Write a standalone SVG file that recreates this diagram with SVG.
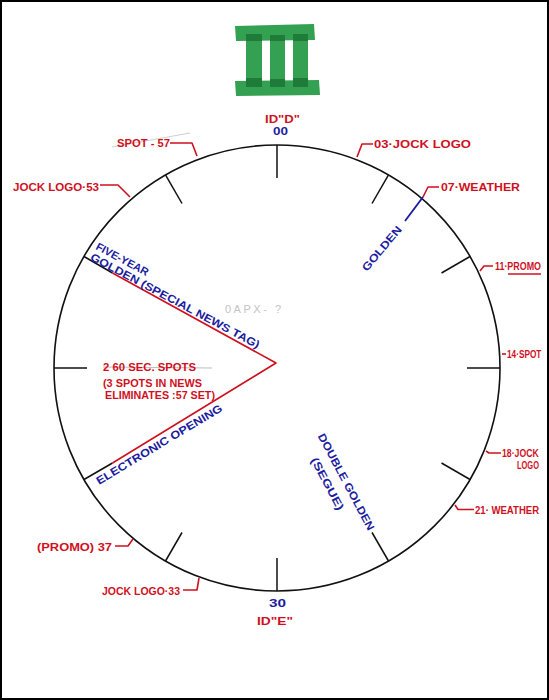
<svg xmlns="http://www.w3.org/2000/svg" width="549" height="700" viewBox="0 0 549 700">
<style>
.r{fill:#d0101e;font-family:"Liberation Sans",Arial,sans-serif;font-size:11px;font-weight:bold;}
.b{fill:#1c1ca0;font-family:"Liberation Sans",Arial,sans-serif;font-size:11px;font-weight:bold;}
.rl{fill:none;stroke:#d0101e;stroke-width:1.6;stroke-linejoin:round;}
.tk{stroke:#111;stroke-width:1.5;}
.g1{fill:#34a052;}
.g2{fill:#1f7b3a;}
</style>
<rect x="1" y="1" width="547" height="698" fill="#fff" stroke="#000" stroke-width="2"/>

<g id="logo">
<rect class="g1" x="246" y="30" width="16" height="56"/>
<rect class="g1" x="270" y="30" width="15" height="56"/>
<rect class="g1" x="293" y="30" width="15" height="56"/>
<path class="g1" d="M235,26 L314,24 L315,40 L236,41 Z"/>
<path class="g1" d="M235,81 L319,80 L320,95 L236,96 Z"/>
<rect class="g2" x="246" y="34" width="16" height="7"/>
<rect class="g2" x="270" y="35" width="15" height="6"/>
<rect class="g2" x="293" y="34" width="15" height="7"/>
<rect class="g2" x="246" y="78" width="16" height="9"/>
<rect class="g2" x="270" y="79" width="15" height="8"/>
<rect class="g2" x="293" y="78" width="15" height="9"/>
</g>

<g id="clock">
<circle cx="277" cy="368" r="223" fill="none" stroke="#111" stroke-width="1.6"/>
<line class="tk" x1="277" y1="145" x2="277" y2="178"/>
<line class="tk" x1="388.5" y1="174.9" x2="372" y2="203.5"/>
<line class="tk" x1="470" y1="256.5" x2="441.5" y2="273"/>
<line class="tk" x1="500" y1="368" x2="467" y2="368"/>
<line class="tk" x1="470" y1="479.5" x2="441.5" y2="463"/>
<line class="tk" x1="388.5" y1="561" x2="372" y2="532.5"/>
<line class="tk" x1="277" y1="591" x2="277" y2="558"/>
<line class="tk" x1="165.5" y1="561" x2="182" y2="532.5"/>
<line class="tk" x1="84" y1="479.5" x2="112.5" y2="463"/>
<line class="tk" x1="54" y1="368" x2="87" y2="368"/>
<line class="tk" x1="84" y1="256.5" x2="112.5" y2="273"/>
<line class="tk" x1="165.5" y1="174.9" x2="182" y2="203.5"/>
</g>

<g id="connectors">
<polyline class="rl" points="112.5,273 276,363 112.5,463"/>
<polyline class="rl" points="170,143 192,143 197,156"/>
<polyline class="rl" points="100,185 118,185 130,197"/>
<polyline class="rl" points="357,157 362,144 373,144"/>
<polyline class="rl" points="423,197 428,187 439,187"/>
<polyline class="rl" points="480,271 484,266 493,266"/>
<polyline class="rl" points="502,354 506,354"/>
<polyline class="rl" points="486,451 489,453 501,453"/>
<polyline class="rl" points="455,505 458,509.5 474,509.5"/>
<polyline class="rl" points="115,546 128,546 133,539"/>
<polyline class="rl" points="183,590 197,590 199,578"/>
<line x1="423" y1="197" x2="405" y2="221" stroke="#1c1ca0" stroke-width="1.8"/>
<line x1="112" y1="147" x2="190" y2="133" stroke="#cfcfcf" stroke-width="1"/>
<line x1="103" y1="367" x2="212" y2="368" stroke="#bdbdbd" stroke-width="1.2"/>
<line x1="508" y1="274" x2="541" y2="274" stroke="#d0101e" stroke-width="1.4"/>
</g>

<g id="top-label">
<text class="r" x="265" y="123" textLength="35" lengthAdjust="spacingAndGlyphs">ID"D"</text>
<text class="b" x="273" y="135" font-size="13" textLength="15" lengthAdjust="spacingAndGlyphs">00</text>
</g>
<g id="bottom-label">
<text class="b" x="269" y="607" font-size="13" textLength="17" lengthAdjust="spacingAndGlyphs">30</text>
<text class="r" x="257" y="625" textLength="36" lengthAdjust="spacingAndGlyphs">ID"E"</text>
</g>
<g id="m57"><text class="r" x="117" y="147" textLength="53" lengthAdjust="spacingAndGlyphs">SPOT - 57</text></g>
<g id="m53"><text class="r" x="13" y="191" textLength="86" lengthAdjust="spacingAndGlyphs">JOCK LOGO·53</text></g>
<g id="m03"><text class="r" x="374" y="148" textLength="97" lengthAdjust="spacingAndGlyphs">03·JOCK LOGO</text></g>
<g id="m07"><text class="r" x="441" y="191" textLength="79" lengthAdjust="spacingAndGlyphs">07·WEATHER</text></g>
<g id="m11"><text class="r" transform="translate(495,270) scale(0.81,1)">11·PROMO</text></g>
<g id="m14"><text class="r" transform="translate(507,358) scale(0.75,1)">14·SPOT</text></g>
<g id="m18"><text class="r" transform="translate(502,457) scale(0.79,1)">18·JOCK</text><text class="r" transform="translate(517,469) scale(0.68,1)">LOGO</text></g>
<g id="m21"><text class="r" transform="translate(475,514) scale(0.87,1)">21· WEATHER</text></g>
<g id="m37"><text class="r" x="37" y="551" textLength="75" lengthAdjust="spacingAndGlyphs">(PROMO) 37</text></g>
<g id="m33"><text class="r" x="102" y="595" textLength="78" lengthAdjust="spacingAndGlyphs">JOCK LOGO·33</text></g>

<g id="golden"><text class="b" font-size="12" transform="translate(367,272) rotate(-50)" textLength="55" lengthAdjust="spacingAndGlyphs">GOLDEN</text></g>
<g id="five-year">
<text class="b" transform="translate(95,249) rotate(28)" textLength="58" lengthAdjust="spacingAndGlyphs">FIVE-YEAR</text>
<text class="b" transform="translate(89.5,259.5) rotate(28)" textLength="190" lengthAdjust="spacingAndGlyphs">GOLDEN (SPECIAL NEWS TAG)</text>
</g>
<g id="spots">
<text class="r" x="103" y="371" textLength="93" lengthAdjust="spacingAndGlyphs">2 60 SEC. SPOTS</text>
<text class="r" x="103" y="387" textLength="99" lengthAdjust="spacingAndGlyphs">(3 SPOTS IN NEWS</text>
<text class="r" x="105" y="399" textLength="110" lengthAdjust="spacingAndGlyphs">ELIMINATES :57 SET)</text>
</g>
<g id="electronic"><text class="b" font-size="12" transform="translate(99,485) rotate(-31)" textLength="145" lengthAdjust="spacingAndGlyphs">ELECTRONIC OPENING</text></g>
<g id="double-golden">
<text class="b" transform="translate(317.5,436) rotate(62)" textLength="108" lengthAdjust="spacingAndGlyphs">DOUBLE GOLDEN</text>
<text class="b" transform="translate(310.5,460) rotate(62)" textLength="58" lengthAdjust="spacingAndGlyphs">(SEGUE)</text>
</g>
<g id="pencil"><text x="225" y="313" font-family="Liberation Sans, Arial, sans-serif" font-size="11" fill="#c4c4c4" textLength="56">0APX- ?</text></g>
</svg>
